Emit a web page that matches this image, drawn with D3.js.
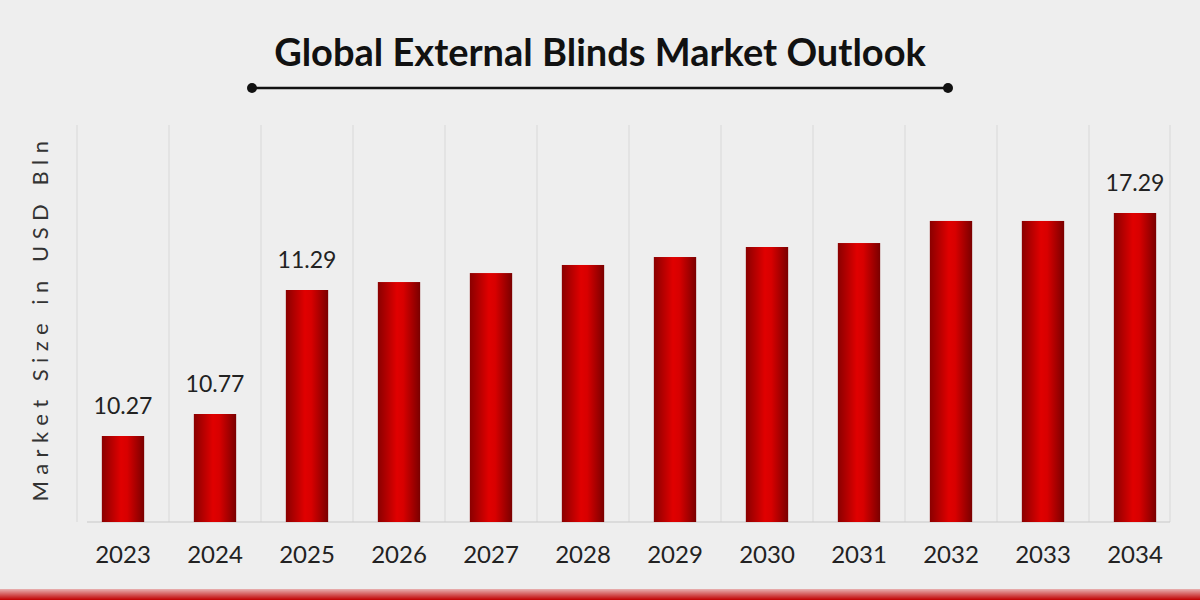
<!DOCTYPE html>
<html><head><meta charset="utf-8">
<script src="https://cdn.jsdelivr.net/npm/d3@7/dist/d3.min.js"></script>
<style>body{margin:0;background:#eeeeee}</style>
</head><body>
<script>
const years = ["2023","2024","2025","2026","2027","2028","2029","2030","2031","2032","2033","2034"];
const values = [10.27,10.77,11.29,11.91,12.61,13.24,13.86,14.64,14.95,16.67,16.67,17.29];
const labelled = ["2023","2024","2025","2034"];
const W=1200,H=600;
const svg=d3.select("body").append("svg").attr("width",W).attr("height",H);
svg.append("rect").attr("width",W).attr("height",H).attr("fill","#eeeeee");
const defs=svg.append("defs");
const g=defs.append("linearGradient").attr("id","bg");
[["0%","#8a0000"],["45%","#e00000"],["60%","#d80000"],["100%","#7a0000"]].forEach(s=>g.append("stop").attr("offset",s[0]).attr("stop-color",s[1]));
const rg=defs.append("linearGradient").attr("id","rb").attr("x1",0).attr("y1",0).attr("x2",0).attr("y2",1);
rg.append("stop").attr("offset","0%").attr("stop-color","#e8b0b0");rg.append("stop").attr("offset","100%").attr("stop-color","#c00000");
const x=d3.scaleBand().domain(years).range([77,1181]).paddingInner(0.54).paddingOuter(0.27);
const base=522;
const y=d3.scaleLinear().domain([0,10.27,10.77,11.29,17.29]).range([base,base-86,base-108,base-232,base-309]);
const step=x.step();
years.forEach(d=>{const gx=x(d)-(step-x.bandwidth())/2;
 svg.append("line").attr("x1",gx).attr("x2",gx).attr("y1",125).attr("y2",base).attr("stroke","#d8d8d8");});
svg.append("line").attr("x1",1170).attr("x2",1170).attr("y1",125).attr("y2",base).attr("stroke","#d8d8d8");
svg.append("line").attr("x1",87).attr("x2",1170).attr("y1",base).attr("y2",base).attr("stroke","#c8c8c8");
svg.selectAll(".bar").data(years).enter().append("rect").attr("x",d=>x(d)).attr("width",x.bandwidth())
 .attr("y",(d,i)=>y(values[i])).attr("height",(d,i)=>base-y(values[i])).attr("fill","url(#bg)");
svg.selectAll(".vl").data(years.filter(d=>labelled.includes(d))).enter().append("text")
 .attr("x",d=>x(d)+x.bandwidth()/2).attr("y",d=>y(values[years.indexOf(d)])-22).attr("text-anchor","middle")
 .attr("font-family","Lato, sans-serif").attr("font-size",23).attr("fill","#222").text(d=>values[years.indexOf(d)].toFixed(2));
svg.selectAll(".xl").data(years).enter().append("text").attr("x",d=>x(d)+x.bandwidth()/2).attr("y",563)
 .attr("text-anchor","middle").attr("font-family","Lato, sans-serif").attr("font-size",24).attr("fill","#222").text(d=>d);
svg.append("text").attr("transform","translate(48,318) rotate(-90)").attr("text-anchor","middle")
 .attr("font-family","Lato, sans-serif").attr("font-size",22).attr("letter-spacing",6.5).attr("fill","#333").text("Market Size in USD Bln");
svg.append("text").attr("x",600).attr("y",66).attr("text-anchor","middle").attr("font-family","Lato, sans-serif")
 .attr("font-weight","bold").attr("font-size",38).attr("fill","#111").text("Global External Blinds Market Outlook");
svg.append("line").attr("x1",252).attr("x2",948).attr("y1",88).attr("y2",88).attr("stroke","#111").attr("stroke-width",2.5);
[252,948].forEach(cx=>svg.append("circle").attr("cx",cx).attr("cy",88).attr("r",5).attr("fill","#111"));
svg.append("rect").attr("x",0).attr("y",589).attr("width",W).attr("height",11).attr("fill","url(#rb)");
</script></body></html>
